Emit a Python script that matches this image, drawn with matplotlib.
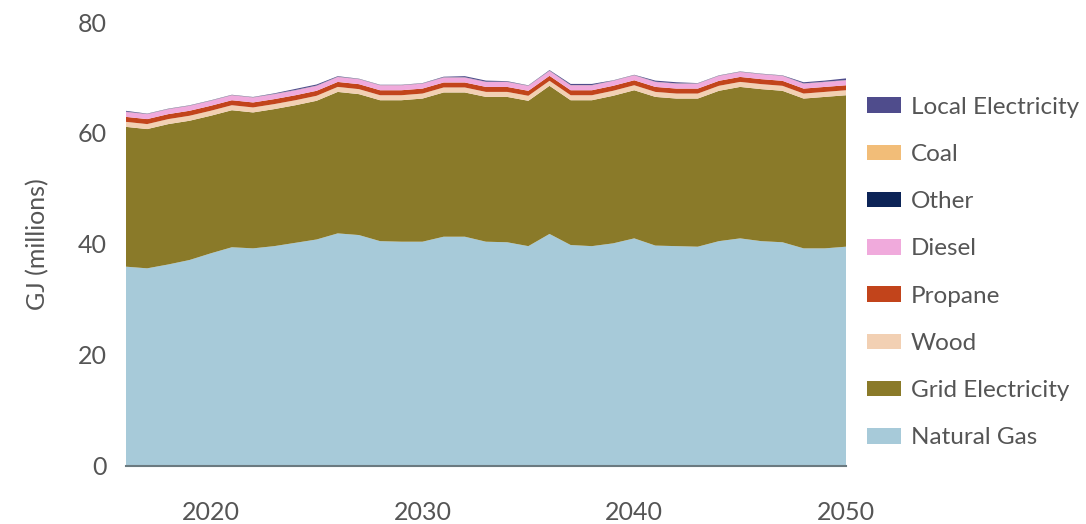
import numpy as np
import matplotlib.pyplot as plt
from matplotlib.patches import Patch

plt.rcParams['font.family'] = ['Lato', 'DejaVu Sans']

years = list(range(2016, 2051))

natural_gas = [35.9, 35.6, 36.3, 37.1, 38.3, 39.4, 39.2, 39.6, 40.2, 40.8,
               41.9, 41.6, 40.5, 40.4, 40.4, 41.3, 41.3, 40.4, 40.3, 39.6,
               41.8, 39.8, 39.6, 40.1, 41.0, 39.7, 39.6, 39.5, 40.5, 41.0,
               40.5, 40.3, 39.2, 39.2, 39.5]
grid_electricity = [25.2, 25.1, 25.3, 25.1, 24.8, 24.7, 24.5, 24.7, 24.8, 25.0,
                    25.5, 25.4, 25.4, 25.5, 25.8, 26.0, 26.0, 26.1, 26.2, 26.2,
                    26.7, 26.1, 26.3, 26.6, 26.7, 26.8, 26.6, 26.7, 27.1, 27.3,
                    27.4, 27.3, 27.0, 27.3, 27.3]
wood = [0.9] * 35
propane = [0.9] * 35
diesel = [0.9] * 35
other = [0.02] * 35
coal = [0.02] * 35
local_electricity = [0.15, 0.05, 0.05, 0.05, 0.05, 0.05, 0.05, 0.1, 0.2, 0.2,
                     0.1, 0.05, 0.05, 0.05, 0.05, 0.1, 0.2, 0.2, 0.1, 0.05,
                     0.1, 0.2, 0.2, 0.05, 0.05, 0.2, 0.2, 0.05, 0.05, 0.05,
                     0.05, 0.05, 0.2, 0.2, 0.3]

labels = ['Natural Gas', 'Grid Electricity', 'Wood', 'Propane', 'Diesel',
          'Other', 'Coal', 'Local Electricity']
colors = ['#a7cad9', '#8a7a29', '#f2d0b3', '#c2441b', '#f0aadc',
          '#0c2457', '#f2bd78', '#4f4c8c']

text_color = '#555555'

fig = plt.figure(figsize=(10.86, 5.24), dpi=100)
ax = fig.add_axes([0.116, 0.111, 0.663, 0.847])

series = [natural_gas, grid_electricity, wood, propane, diesel, other, coal, local_electricity]
ax.stackplot(years, *series, colors=colors, linewidth=0)

ax.set_xlim(2016, 2050)
ax.set_ylim(0, 80)
ax.set_xticks([2020, 2030, 2040, 2050])
ax.set_yticks([0, 20, 40, 60, 80])

for s in ['top', 'right', 'left']:
    ax.spines[s].set_visible(False)
ax.spines['bottom'].set_color('#6b7a80')
ax.spines['bottom'].set_linewidth(1.5)

ax.tick_params(axis='both', length=0, labelsize=18, labelcolor=text_color)
ax.tick_params(axis='x', pad=25)
ax.tick_params(axis='y', pad=14)

ax.set_ylabel('GJ (millions)', fontsize=18, color=text_color, labelpad=20)

handles = [Patch(facecolor=c, edgecolor='none') for c in colors][::-1]
leg = fig.legend(handles, labels[::-1], loc='upper left', bbox_to_anchor=(0.789, 0.834),
                 frameon=False, fontsize=17.5, handlelength=1.4, handleheight=0.6,
                 handletextpad=0.42, labelspacing=1.08, borderaxespad=0)
for t in leg.get_texts():
    t.set_color(text_color)

fig.savefig('out.png', dpi=100)
